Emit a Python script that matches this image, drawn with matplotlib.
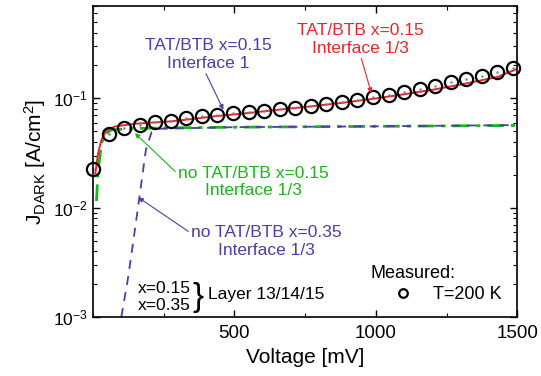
import numpy as np
import matplotlib
matplotlib.use('Agg')
import matplotlib.pyplot as plt
from matplotlib.ticker import MultipleLocator, FixedLocator

plt.rcParams['font.family'] = ['Liberation Sans', 'DejaVu Sans']
plt.rcParams['mathtext.fontset'] = 'custom'
plt.rcParams['mathtext.rm'] = 'Liberation Sans'
plt.rcParams['mathtext.it'] = 'Liberation Sans:italic'
plt.rcParams['mathtext.bf'] = 'Liberation Sans:bold'

# Measured data, T = 200 K
meas_v = [0, 55, 110, 165, 220, 275, 330, 385, 440, 495, 550, 605, 660, 715,
          770, 825, 880, 935, 990, 1045, 1100, 1155, 1210, 1265, 1320, 1375, 1430, 1485]
meas_j = [0.0225, 0.047, 0.0538, 0.0569, 0.0602, 0.0624, 0.0656, 0.0684, 0.0703,
          0.0728, 0.075, 0.0771, 0.0798, 0.082, 0.0857, 0.0887, 0.0925, 0.0966,
          0.102, 0.108, 0.114, 0.122, 0.130, 0.140, 0.150, 0.161, 0.174, 0.190]

# TAT/BTB x=0.15, interface 1/3 (red)
red_v = [8, 18, 30, 47, 77, 148, 278, 440, 550, 660, 770, 880, 990, 1100, 1210, 1320, 1430, 1500]
red_j = [0.0206, 0.0316, 0.042, 0.0508, 0.0553, 0.0586, 0.0617, 0.069, 0.0735,
         0.079, 0.0845, 0.091, 0.099, 0.109, 0.121, 0.137, 0.157, 0.186]

# no TAT/BTB x=0.15, interface 1/3 (green)
grn_v = [12, 18, 30, 41, 65, 148, 220, 500, 1000, 1500]
grn_j = [0.0115, 0.022, 0.039, 0.0465, 0.0516, 0.053, 0.0535, 0.0545, 0.0555, 0.0565]

# no TAT/BTB x=0.35, interface 1/3 (blue)
blu_v = [100, 124, 148, 166, 187, 207, 236, 500, 1000, 1500]
blu_j = [0.001, 0.0023, 0.0063, 0.0136, 0.034, 0.049, 0.0528, 0.0545, 0.0555, 0.057]

red = '#e8262a'
green = '#1db31d'
blue = '#4a3fa8'

fig = plt.figure(figsize=(5.41, 3.76), dpi=100)
ax = fig.add_axes([0.172, 0.157, 0.784, 0.827])

ax.plot(grn_v, grn_j, color=green, lw=2.0, ls=(0, (6, 2.5, 1.5, 2.5)))
ax.plot(blu_v, blu_j, color=blue, lw=1.3, ls=(0, (5, 4)))
ax.plot(red_v, red_j, color=red, lw=1.4)
meas, = ax.plot(meas_v, meas_j, ls='none', marker='o', ms=9.5, mfc='none', mec='k',
                mew=1.6, clip_on=False)
ax.plot(meas_v, meas_j, ls='none', marker='.', ms=1.5, color='0.5', clip_on=False)

ax.set_yscale('log')
ax.set_xlim(0, 1500)
ax.set_ylim(1e-3, 0.7)
ax.xaxis.set_major_locator(FixedLocator([500, 1000, 1500]))
ax.xaxis.set_minor_locator(MultipleLocator(250))
ax.tick_params(which='both', direction='in', top=True, right=True)
ax.tick_params(which='major', length=5, width=1)
ax.tick_params(which='minor', length=3, width=0.8)
ax.tick_params(axis='x', pad=6, labelsize=13.5)
ax.tick_params(axis='y', labelsize=12.5)
for s in ax.spines.values():
    s.set_linewidth(1.2)

ax.set_xlabel('Voltage [mV]', fontsize=15, labelpad=4)
ax.set_ylabel(r'J$_{\mathrm{DARK}}$ [A/cm$^{2}$]', fontsize=15, labelpad=4)

arr = dict(arrowstyle='-|>', lw=0.8, mutation_scale=7, shrinkA=0, shrinkB=0)
ax.annotate('TAT/BTB x=0.15\nInterface 1', xy=(461, 0.0787), xytext=(408, 0.251),
            color=blue, fontsize=12.5, ha='center', va='center', multialignment='center',
            arrowprops=dict(arr, color=blue, relpos=(0.47, 0.0)))
ax.annotate('TAT/BTB x=0.15\nInterface 1/3', xy=(984, 0.112), xytext=(946, 0.346),
            color=red, fontsize=12.5, ha='center', va='center', multialignment='center',
            arrowprops=dict(arr, color=red, relpos=(0.5, 0.0)))
ax.annotate('no TAT/BTB x=0.15\nInterface 1/3', xy=(148, 0.048), xytext=(567, 0.0171),
            color=green, fontsize=12.5, ha='center', va='center', multialignment='center',
            arrowprops=dict(arr, color=green, relpos=(0.0, 0.75)))
ax.annotate('no TAT/BTB x=0.35\nInterface 1/3', xy=(160, 0.0124), xytext=(613, 0.00492),
            color=blue, fontsize=12.5, ha='center', va='center', multialignment='center',
            arrowprops=dict(arr, color=blue, relpos=(0.0, 0.75)))

ax.text(347, 0.00152, 'x=0.15\nx=0.35', fontsize=12.5, ha='right', va='center', linespacing=1.15)
ax.text(372, 0.00150, '}', fontsize=24, ha='center', va='center')
ax.text(406, 0.00159, 'Layer 13/14/15', fontsize=12.5, ha='left', va='center')

ax.text(1131, 0.00252, 'Measured:', fontsize=13, ha='center', va='center')
ax.legend([meas], ['T=200 K'], loc='center left', bbox_to_anchor=(0.70, 0.0707),
          frameon=False, fontsize=13, markerscale=0.65, handlelength=1.5,
          handletextpad=0.9, borderpad=0, borderaxespad=0)

fig.savefig('out.png', dpi=100)
